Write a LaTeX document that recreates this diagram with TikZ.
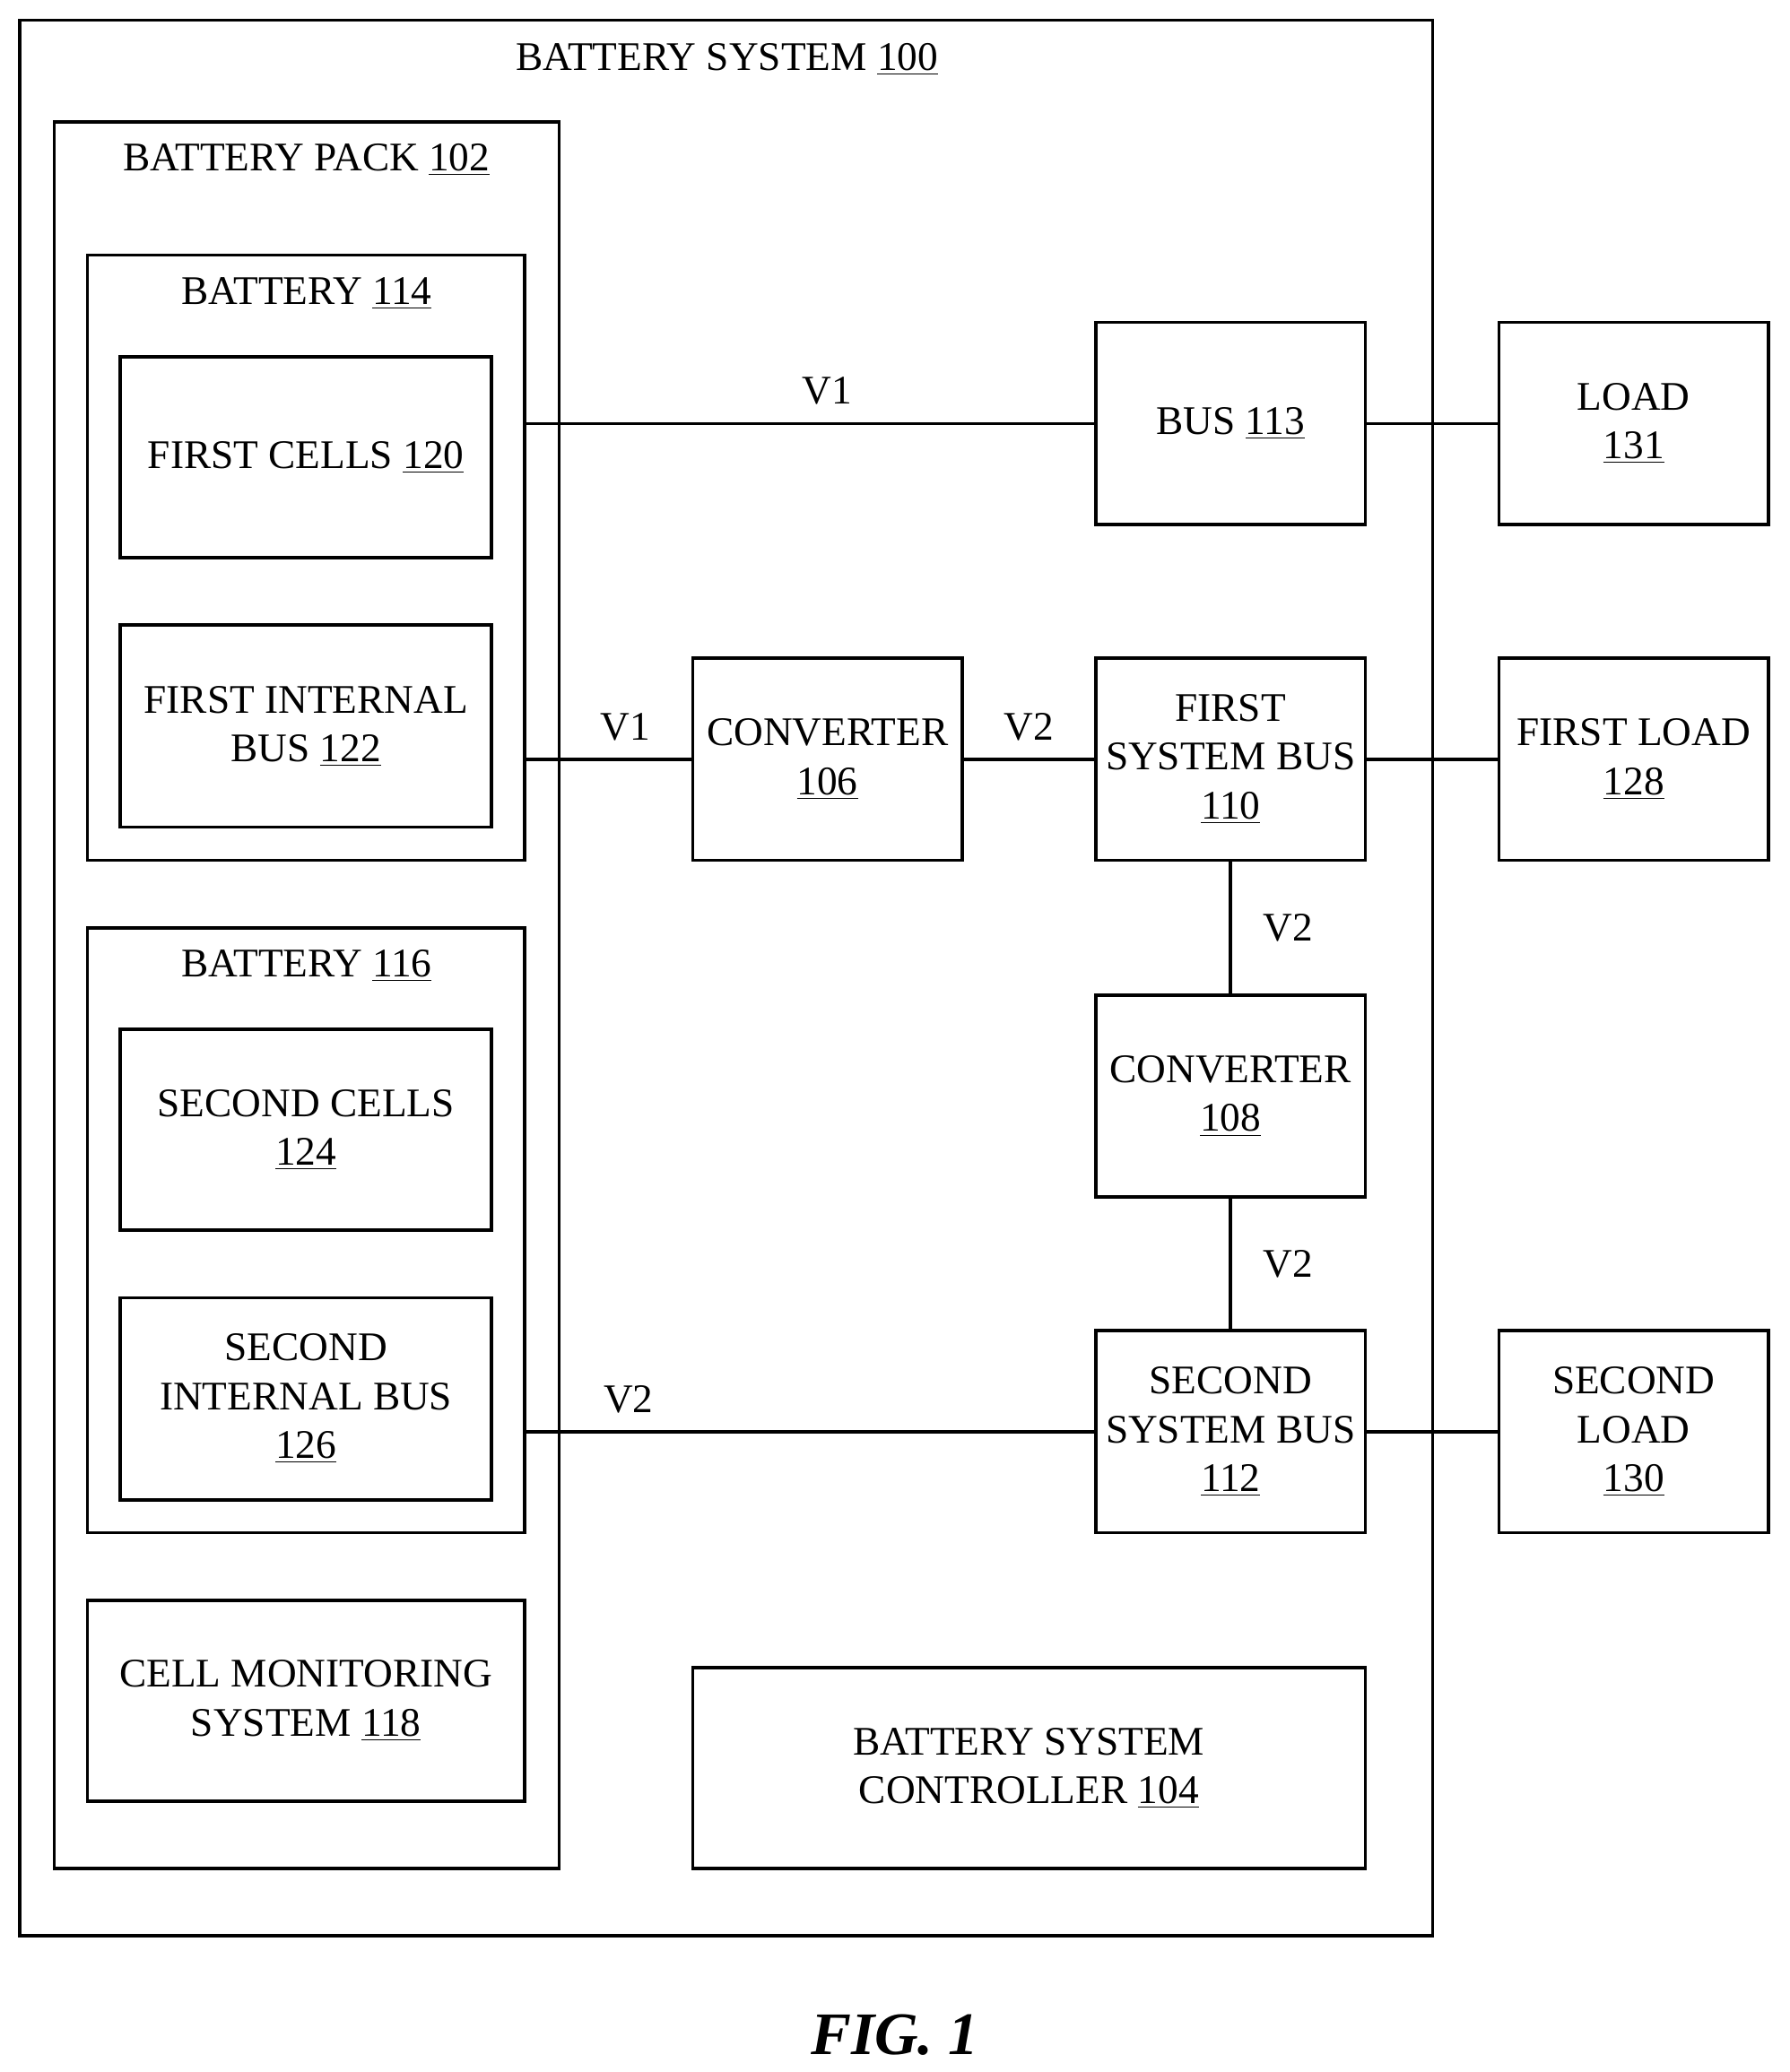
\documentclass[tikz,border=0pt]{standalone}
\usepackage{fontspec}
\setmainfont{Liberation Serif}
\usetikzlibrary{positioning}
\tikzset{
  blk/.style={rectangle, draw=black, line width=1.4pt, align=center, inner sep=0pt},
  ttl/.style={anchor=center, align=center},
  wire/.style={line width=1.4pt}
}
\newcommand{\num}[1]{\underline{#1}}
\begin{document}
\begin{tikzpicture}[x=0.02cm, y=-0.02cm, font=\fontsize{17.5}{21}\selectfont]
	\useasboundingbox (0,0) rectangle (1354,1568);
	% containers
	\node (sys) [blk, minimum width=21.38cm, minimum height=29cm] at (549.5,740) {};
	\node [ttl] at (550,45) {BATTERY SYSTEM \num{100}};
	\node (pack) [blk, minimum width=7.64cm, minimum height=26.44cm] at (232,753) {};
	\node [ttl] at (232,121) {BATTERY PACK \num{102}};
	\node (b114) [blk, minimum width=6.62cm, minimum height=9.16cm] at (231.5,422) {};
	\node [ttl] at (232,222) {BATTERY \num{114}};
	\node (b116) [blk, minimum width=6.62cm, minimum height=9.16cm] at (231.5,931) {};
	\node [ttl] at (232,731) {BATTERY \num{116}};
	% inner blocks
	\node (cells1) [blk, minimum width=5.62cm, minimum height=3.04cm] at (231.5,346) {FIRST CELLS \num{120}};
	\node (ibus1) [blk, minimum width=5.62cm, minimum height=3.06cm] at (231.5,549.5) {FIRST INTERNAL\\BUS \num{122}};
	\node (cells2) [blk, minimum width=5.62cm, minimum height=3.04cm] at (231.5,855) {SECOND CELLS\\\num{124}};
	\node (ibus2) [blk, minimum width=5.62cm, minimum height=3.06cm] at (231.5,1058.5) {SECOND\\INTERNAL BUS\\\num{126}};
	\node (cms) [blk, minimum width=6.62cm, minimum height=3.04cm] at (231.5,1287) {CELL MONITORING\\SYSTEM \num{118}};
	\node (conv1) [blk, minimum width=4.08cm, minimum height=3.06cm] at (626,574.5) {CONVERTER\\\num{106}};
	\node (bus) [blk, minimum width=4.08cm, minimum height=3.06cm] at (931,320.5) {BUS \num{113}};
	\node (fsb) [blk, minimum width=4.08cm, minimum height=3.06cm] at (931,574.5) {FIRST\\SYSTEM BUS\\\num{110}};
	\node (conv2) [blk, minimum width=4.08cm, minimum height=3.06cm] at (931,829.5) {CONVERTER\\\num{108}};
	\node (ssb) [blk, minimum width=4.08cm, minimum height=3.06cm] at (931,1083.5) {SECOND\\SYSTEM BUS\\\num{112}};
	\node (ctrl) [blk, minimum width=10.18cm, minimum height=3.04cm] at (778.5,1338) {BATTERY SYSTEM\\CONTROLLER \num{104}};
	\node (load) [blk, minimum width=4.08cm, minimum height=3.06cm] at (1236,320.5) {LOAD\\\num{131}};
	\node (fload) [blk, minimum width=4.08cm, minimum height=3.06cm] at (1236,574.5) {FIRST LOAD\\\num{128}};
	\node (sload) [blk, minimum width=4.08cm, minimum height=3.06cm] at (1236,1083.5) {SECOND\\LOAD\\\num{130}};
	% connectors
	\draw [wire] (b114.east |- bus.west) -- node [above=4pt, pos=0.53] {V1} (bus.west);
	\draw [wire] (b114.east |- conv1.west) -- node [above=4pt, pos=0.6] {V1} (conv1.west);
	\draw [wire] (conv1) -- node [above=4pt] {V2} (fsb);
	\draw [wire] (fsb) -- node [right=10pt] {V2} (conv2);
	\draw [wire] (conv2) -- node [right=10pt] {V2} (ssb);
	\draw [wire] (b116.east |- ssb.west) -- node [above=4pt, pos=0.18] {V2} (ssb.west);
	\draw [wire] (bus) -- (load);
	\draw [wire] (fsb) -- (fload);
	\draw [wire] (ssb) -- (sload);
	\node (fig) [font=\fontsize{26}{30}\selectfont\bfseries\itshape] at (677,1540) {FIG. 1};
\end{tikzpicture}
\end{document}
